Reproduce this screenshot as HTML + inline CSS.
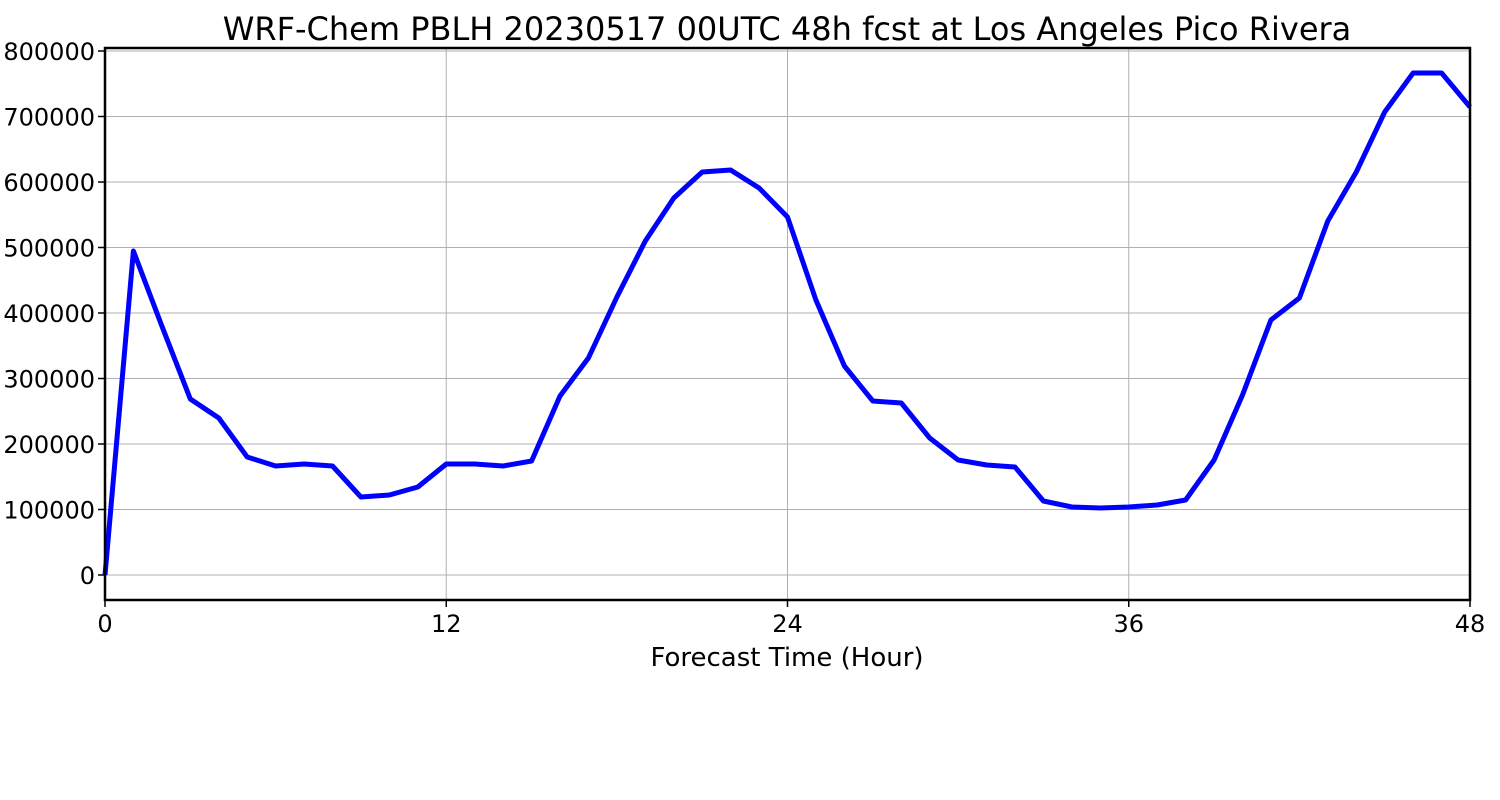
<!DOCTYPE html>
<html><head><meta charset="utf-8"><style>
html,body{margin:0;padding:0;background:#fff;}
svg{display:block;font-family:"DejaVu Sans","Liberation Sans",sans-serif;}
</style></head><body>
<svg id="chart" width="1500" height="800">
<text x="787" y="40" text-anchor="middle" font-size="32">WRF-Chem PBLH  20230517 00UTC 48h fcst at Los Angeles Pico Rivera</text>
<g id="grid"></g>
<g id="yticks"></g>
<g id="xticks"></g>
<path id="line" fill="none" stroke="#0000ff" stroke-width="5" stroke-linejoin="round"/>
<rect x="105" y="48" width="1365" height="552" fill="none" stroke="#000" stroke-width="2.5"/>
<text x="787" y="666" text-anchor="middle" font-size="26">Forecast Time (Hour)</text>
</svg>
<script>
const hours = [0,1,2,3,4,5,6,7,8,9,10,11,12,13,14,15,16,17,18,19,20,21,22,23,24,25,26,27,28,29,30,31,32,33,34,35,36,37,38,39,40,41,42,43,44,45,46,47,48];
const pblh = [0,494600,380000,268700,239700,180150,166400,169500,166400,119100,122100,134350,169500,169500,166400,174000,273300,331300,424400,509900,575600,615300,618300,590800,546500,419800,319100,265600,262600,209200,175600,167900,164900,113000,103800,102300,103800,106900,114500,175600,274800,389300,422900,540500,615300,706900,766400,766400,714500];
const yTicks = [0,100000,200000,300000,400000,500000,600000,700000,800000];
const xTicks = [0,12,24,36,48];
const X0=105,X1=1470,Y0=600,Y1=48, xmin=0,xmax=48, ymin=-38170, ymax=804580;
const sx=v=>X0+(v-xmin)/(xmax-xmin)*(X1-X0);
const sy=v=>Y0-(v-ymin)/(ymax-ymin)*(Y0-Y1);
const NS="http://www.w3.org/2000/svg";
const grid=document.getElementById('grid'), yg=document.getElementById('yticks'), xg=document.getElementById('xticks');
function mk(t,a,p){const e=document.createElementNS(NS,t);for(const k in a)e.setAttribute(k,a[k]);p.appendChild(e);return e;}
yTicks.forEach(v=>{
  const y=sy(v);
  const gl=mk('line',{x1:X0,x2:X1,y1:y,y2:y,stroke:'#b0b0b0','stroke-width':1},grid);
  
  
  const tk=mk('line',{x1:X0-7,x2:X0,y1:y,y2:y,stroke:'#000','stroke-width':1.5},yg);
  
  
  const t=mk('text',{x:X0-10,y:y+9,'text-anchor':'end','font-size':24},yg);
  
  
  t.textContent=String(v);
});
xTicks.forEach(v=>{
  const x=sx(v);
  const gl=mk('line',{x1:x,x2:x,y1:Y1,y2:Y0,stroke:'#b0b0b0','stroke-width':1},grid);
  
  
  const tk=mk('line',{x1:x,x2:x,y1:Y0,y2:Y0+7,stroke:'#000','stroke-width':1.5},xg);
  
  
  const t=mk('text',{x:x,y:Y0+32,'text-anchor':'middle','font-size':24},xg);
  
  
  t.textContent=String(v);
});
document.getElementById('line').setAttribute('d',hours.map((h,i)=>(i?'L':'M')+sx(h).toFixed(1)+' '+sy(pblh[i]).toFixed(1)).join(' '));
</script>
</body></html>
